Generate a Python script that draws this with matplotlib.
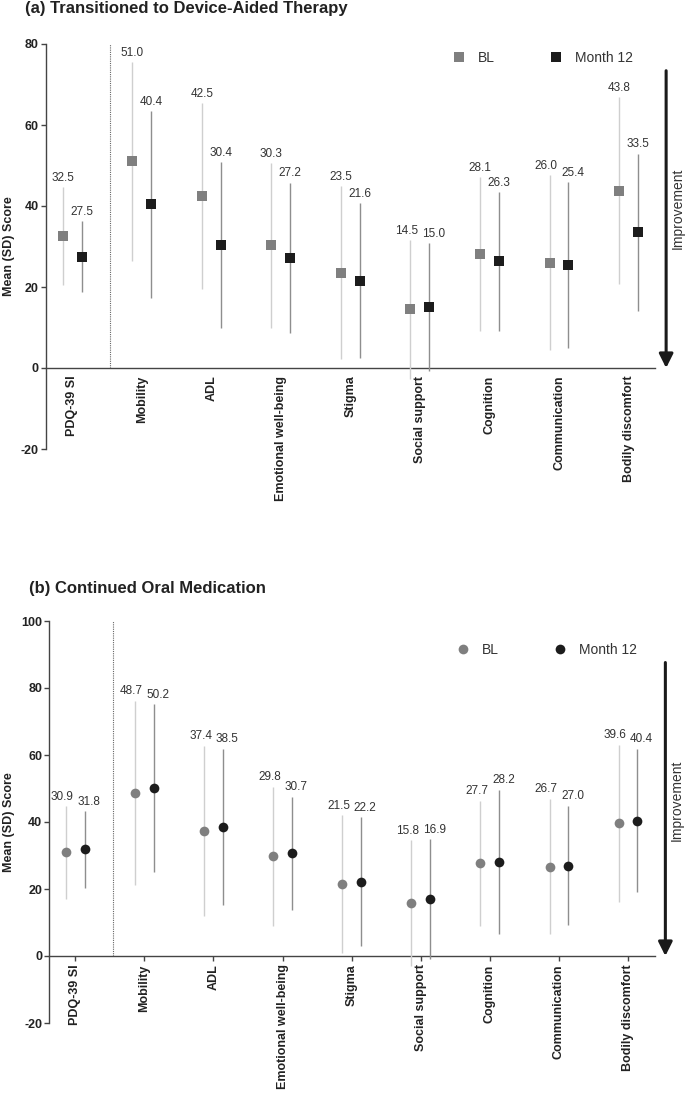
import matplotlib
matplotlib.use("Agg")
import matplotlib.pyplot as plt
import numpy as np
from matplotlib.lines import Line2D

plt.rcParams['font.family'] = ['Liberation Sans', 'DejaVu Sans']

# ---------------- data ----------------
categories = ["PDQ-39 SI", "Mobility", "ADL", "Emotional well-being", "Stigma",
              "Social support", "Cognition", "Communication", "Bodily discomfort"]
series_names = ["BL", "Month 12"]

# (a) Transitioned to Device-Aided Therapy
a_bl_mean = [32.5, 51.0, 42.5, 30.3, 23.5, 14.5, 28.1, 26.0, 43.8]
a_bl_sd = [12.1, 24.5, 22.9, 20.3, 21.4, 17.1, 19.0, 21.6, 23.0]
a_m12_mean = [27.5, 40.4, 30.4, 27.2, 21.6, 15.0, 26.3, 25.4, 33.5]
a_m12_sd = [8.8, 23.0, 20.4, 18.6, 19.1, 15.8, 17.1, 20.5, 19.4]

# (b) Continued Oral Medication
b_bl_mean = [30.9, 48.7, 37.4, 29.8, 21.5, 15.8, 27.7, 26.7, 39.6]
b_bl_sd = [13.8, 27.5, 25.4, 20.7, 20.5, 18.8, 18.7, 20.2, 23.5]
b_m12_mean = [31.8, 50.2, 38.5, 30.7, 22.2, 16.9, 28.2, 27.0, 40.4]
b_m12_sd = [11.4, 25.0, 23.4, 16.9, 19.2, 17.9, 21.5, 17.8, 21.4]

a_yticks = [-20, 0, 20, 40, 60, 80]
b_yticks = [-20, 0, 20, 40, 60, 80, 100]

title_a = "(a) Transitioned to Device-Aided Therapy"
title_b = "(b) Continued Oral Medication"

# ---------------- styling ----------------
W, H = 685, 1093
fig = plt.figure(figsize=(W / 100, H / 100), dpi=100)

BL_COLOR = "#7f7f7f"
M12_COLOR = "#1c1c1c"
BL_ECOLOR = "#cfcfcf"
M12_ECOLOR = "#8e8e8e"
SPINE = "#444444"
TXT = "#222222"
VAL = "#333333"


def px_rect(left, top, right, bottom):
    return [left / W, 1 - bottom / H, (right - left) / W, (bottom - top) / H]


def panel(rect, bl_mean, bl_sd, m12_mean, m12_sd, marker, yticks, xlim,
          tick_len, tick_pad, leg_anchor, arrow_top, improve_xy, ylabel_x, msize):
    ax = fig.add_axes(rect)
    x = np.arange(len(categories))
    off = 0.136
    ax.set_xlim(*xlim)
    ax.set_ylim(yticks[0], yticks[-1])

    ax.errorbar(x - off, bl_mean, yerr=bl_sd, fmt=marker, color=BL_COLOR,
                ecolor=BL_ECOLOR, elinewidth=1.0, capsize=3.3, capthick=1.0,
                markersize=msize, markeredgewidth=0, zorder=3)
    ax.errorbar(x + off, m12_mean, yerr=m12_sd, fmt=marker, color=M12_COLOR,
                ecolor=M12_ECOLOR, elinewidth=1.0, capsize=3.3, capthick=1.0,
                markersize=msize, markeredgewidth=0, zorder=3)

    # value labels above top caps
    pxu = ax.bbox.height / (yticks[-1] - yticks[0])
    for i in range(len(categories)):
        t1 = bl_mean[i] + bl_sd[i]
        t2 = m12_mean[i] + m12_sd[i]
        close = abs(t1 - t2) * pxu < 13
        dx1, dx2 = (-2.5, 3.0) if close else (0, 0)
        ax.annotate(f"{bl_mean[i]:.1f}", xy=(x[i] - off, t1), xytext=(dx1, 2.5),
                    textcoords="offset points", ha="center", va="bottom",
                    fontsize=8.5, color=VAL)
        ax.annotate(f"{m12_mean[i]:.1f}", xy=(x[i] + off, t2), xytext=(dx2, 2.5),
                    textcoords="offset points", ha="center", va="bottom",
                    fontsize=8.5, color=VAL)

    # dotted separator
    ax.vlines(0.54, 0, yticks[-1], colors="#666666", linestyles=(0, (1, 1)), lw=0.8)

    # spines
    for s in ("top", "right"):
        ax.spines[s].set_visible(False)
    ax.spines["bottom"].set_position(("data", 0))
    ax.spines["left"].set_color(SPINE)
    ax.spines["bottom"].set_color(SPINE)
    ax.spines["left"].set_linewidth(1.0)
    ax.spines["bottom"].set_linewidth(1.0)

    ax.set_yticks(yticks, labels=[str(v) for v in yticks], fontsize=9,
                  fontweight="bold", color=TXT)
    ax.tick_params(axis="y", length=3.6, width=1.0, color=SPINE, pad=1.5)
    ax.set_xticks(x, labels=categories, rotation=90, fontsize=9,
                  fontweight="bold", color=TXT, va="top", ha="center")
    ax.tick_params(axis="x", length=tick_len, width=1.0, color=SPINE, pad=tick_pad)

    ax.set_ylabel("Mean (SD) Score", fontsize=9, fontweight="bold", color=TXT)
    ax.yaxis.set_label_coords(ylabel_x, 0.5)

    handles = [Line2D([], [], marker=marker, ls="none", color=BL_COLOR,
                      markersize=msize, markeredgewidth=0),
               Line2D([], [], marker=marker, ls="none", color=M12_COLOR,
                      markersize=msize, markeredgewidth=0)]
    leg = ax.legend(handles, series_names, ncol=2, frameon=False, loc="center left",
                    bbox_to_anchor=leg_anchor, borderpad=0, borderaxespad=0,
                    handlelength=1.0, handletextpad=0.86, columnspacing=3.9,
                    fontsize=10)
    for t in leg.get_texts():
        t.set_color(VAL)

    # improvement arrow
    ax.annotate("", xy=(8.54, 0), xytext=(8.54, arrow_top),
                arrowprops=dict(arrowstyle="-|>,head_length=0.6,head_width=0.3",
                                lw=2.2, color="#1a1a1a", shrinkA=0, shrinkB=0,
                                mutation_scale=14),
                annotation_clip=False)
    ax.text(improve_xy[0], improve_xy[1], "Improvement", rotation=90,
            ha="center", va="center", fontsize=10, color=VAL, clip_on=False)
    return ax


panel(px_rect(45.7, 44, 655, 449), a_bl_mean, a_bl_sd, a_m12_mean, a_m12_sd,
      "s", a_yticks, (-0.38, 8.38), 0, 5.5, (0.667, 0.965), 73.4, (8.70, 39.4),
      -0.050, 6.5)
panel(px_rect(49.3, 621, 655, 1023), b_bl_mean, b_bl_sd, b_m12_mean, b_m12_sd,
      "o", b_yticks, (-0.376, 8.39), 3.6, 2.5, (0.671, 0.928), 87.6, (8.71, 46.6),
      -0.056, 7.0)

fig.text(25 / W, 1 - 8 / H, title_a, fontsize=12, fontweight="bold",
         color=TXT, ha="left", va="center")
fig.text(29 / W, 1 - 588 / H, title_b, fontsize=12, fontweight="bold",
         color=TXT, ha="left", va="center")

fig.savefig("out.png", dpi=100)
